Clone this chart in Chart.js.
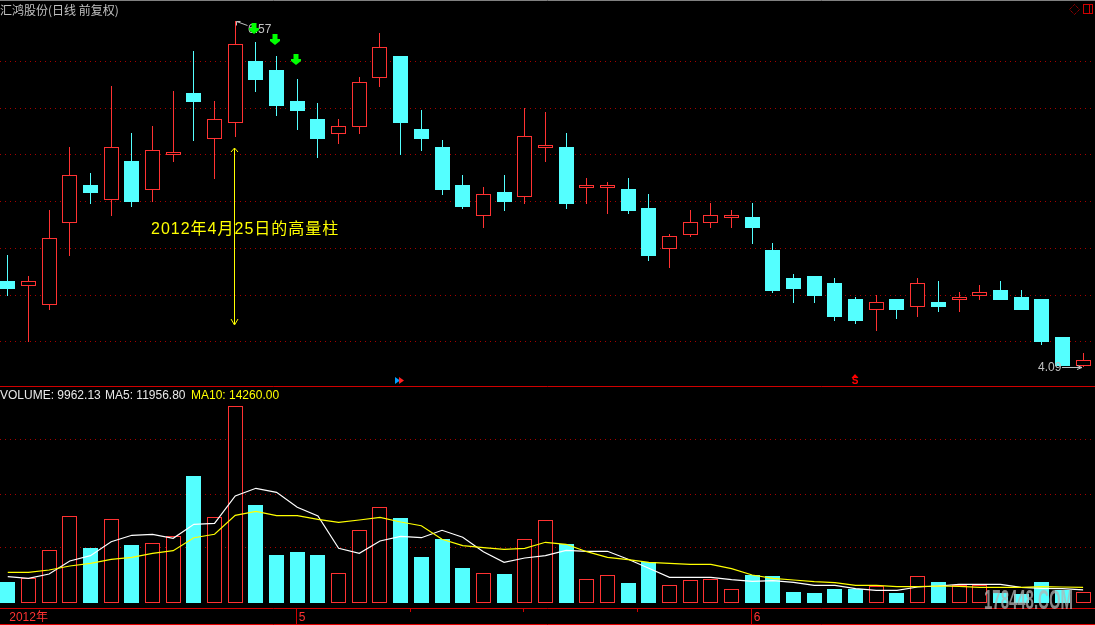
<!DOCTYPE html>
<html>
<head>
<meta charset="utf-8">
<title>汇鸿股份</title>
<script src="https://cdn.jsdelivr.net/npm/chart.js@4"></script>
<style>
  html, body { margin: 0; padding: 0; background: #000; overflow: hidden; }
  canvas { position: absolute; left: 0; display: block; }
  #priceChart { top: 0; }
  #volChart { top: 387px; }
</style>
</head>
<body>
<canvas id="priceChart" width="1095" height="387"></canvas>
<canvas id="volChart" width="1095" height="238"></canvas>
<script>
// daily candles
const opens = [4.706,4.670,4.534,5.122,5.394,5.287,5.566,5.358,5.609,6.054,5.724,5.839,6.283,6.219,5.996,5.867,5.760,5.810,6.161,6.319,5.796,5.667,5.394,5.172,5.344,5.308,5.659,5.667,5.373,5.373,5.366,5.229,4.935,5.036,5.122,5.158,5.165,4.928,4.727,4.742,4.691,4.577,4.498,4.577,4.519,4.555,4.570,4.598,4.641,4.591,4.577,4.304,4.096];
const highs = [4.892,4.742,5.215,5.667,5.480,6.104,5.767,5.817,6.068,6.355,5.996,6.570,6.419,6.319,6.154,5.982,5.867,6.169,6.484,6.319,5.932,5.717,5.466,5.380,5.466,5.946,5.918,5.767,5.444,5.416,5.444,5.330,5.043,5.215,5.265,5.215,5.265,4.978,4.756,4.742,4.727,4.591,4.606,4.577,4.727,4.706,4.627,4.677,4.706,4.641,4.577,4.304,4.190];
const lows = [4.598,4.268,4.498,4.885,5.258,5.172,5.236,5.272,5.559,5.710,5.437,5.738,6.061,5.889,5.789,5.588,5.688,5.760,6.097,5.609,5.638,5.323,5.222,5.086,5.208,5.258,5.559,5.222,5.258,5.186,5.186,4.849,4.799,5.021,5.086,5.086,4.971,4.620,4.548,4.548,4.419,4.398,4.347,4.433,4.448,4.484,4.484,4.570,4.570,4.498,4.247,4.096,4.089];
const closes = [4.648,4.706,5.014,5.466,5.337,5.667,5.272,5.645,5.631,5.989,5.867,6.405,6.147,5.961,5.925,5.724,5.817,6.133,6.384,5.839,5.724,5.358,5.236,5.330,5.272,5.746,5.681,5.258,5.394,5.394,5.208,4.885,5.029,5.129,5.179,5.179,5.086,4.634,4.648,4.598,4.448,4.419,4.555,4.498,4.691,4.519,4.591,4.627,4.570,4.498,4.268,4.096,4.139];
const volumes = [19090,22450,47900,78800,50000,76080,52720,54270,60630,115440,77900,178800,89080,43630,46360,43630,27000,66080,86990,77270,41810,58180,31820,27000,26360,57900,75170,53630,21540,25180,18180,37270,16090,20630,21540,12450,25450,24540,10000,9090,12730,12730,15450,9090,24270,19090,16090,16090,9090,8180,19090,11820,9962.13];
const ma5 = [23900,22450,26360,38180,43000,55720,61540,62450,58810,71540,72450,97260,104260,100630,86990,79080,49720,45180,56360,60630,59360,66080,59720,46630,37000,40900,43000,47900,47000,47000,39720,31540,23360,23360,23360,21180,19720,20270,18820,16090,16090,13000,11540,11540,14540,15450,17000,17000,17000,14270,13360,13000,11956.8];
const ma10 = [27900,27900,30000,33630,36090,39720,41540,45180,47540,59360,62450,79720,83360,79360,79360,76080,73360,75450,77900,73630,70270,57900,52090,50270,48810,49720,55180,53360,46630,41540,39360,37000,36090,35180,35180,31180,25450,22450,20900,19360,18450,16090,16090,14820,14820,15450,15180,14270,14270,14270,14820,14540,14260];

const priceGrid = [6.28, 5.944, 5.614, 5.277, 4.94, 4.603, 4.272];
const volGrid = [50000, 99000, 148500];
const monthIdx = [0, 14, 36];
const monthLabels = ["2012年", "5", "6"];
const minorTickIdx = [19.5, 25, 30.5];
const sellArrowIdx = [12, 13, 14];
const sellArrowPrice = [6.556, 6.477, 6.333];

const RED = "#ff3232";
const CYAN = "#54ffff";
const GRID_RED = "#a80000";
const AXIS_RED = "#d00000";
const CJK = '"Noto Sans CJK SC"';
const SANS = '"Liberation Sans", "Noto Sans CJK SC"';

const isUp = closes.map((c, i) => c >= opens[i]);
const candleColor = isUp.map((u) => (u ? RED : CYAN));
const bodyFill = isUp.map((u) => (u ? "#000" : CYAN));

// keeps the bars on whole pixels, the original is not antialiased
const snapBars = {
  id: "snapBars",
  afterDatasetsUpdate(chart) {
    chart.data.datasets.forEach((ds, n) => {
      if (ds.type && ds.type !== "bar") return;
      chart.getDatasetMeta(n).data.forEach((el) => {
        el.x = Math.floor(el.x) + 0.5;
        el.y = Math.round(el.y);
        el.base = Math.round(el.base);
      });
    });
  },
};

function line(ctx, x1, y1, x2, y2, color) {
  ctx.strokeStyle = color;
  ctx.lineWidth = 1;
  ctx.beginPath();
  ctx.moveTo(x1, y1);
  ctx.lineTo(x2, y2);
  ctx.stroke();
}

function poly(ctx, pts, color) {
  ctx.fillStyle = color;
  ctx.beginPath();
  pts.forEach((p, i) => (i ? ctx.lineTo(p[0], p[1]) : ctx.moveTo(p[0], p[1])));
  ctx.closePath();
  ctx.fill();
}

const priceDecor = {
  id: "priceDecor",
  afterDraw(chart) {
    const ctx = chart.ctx;
    const xs = chart.scales.x;
    const ys = chart.scales.y;
    ctx.save();
    ctx.textBaseline = "middle";
    ctx.textAlign = "left";

    // frame
    line(ctx, 0, 0.5, 1095, 0.5, "#808080");
    line(ctx, 0, 386.5, 1095, 386.5, AXIS_RED);

    // title
    ctx.fillStyle = "#c0c0c0";
    ctx.font = "12px " + CJK;
    ctx.fillText("汇鸿股份(日线 前复权)", 0, 10);

    // window buttons
    ctx.setLineDash([1, 1]);
    ctx.strokeStyle = "#d00000";
    ctx.beginPath();
    ctx.moveTo(1074.5, 4.5);
    ctx.lineTo(1079.5, 9.5);
    ctx.lineTo(1074.5, 14.5);
    ctx.lineTo(1069.5, 9.5);
    ctx.closePath();
    ctx.stroke();
    ctx.setLineDash([]);
    ctx.strokeRect(1083.5, 4.5, 9, 9);
    line(ctx, 1089.5, 4, 1089.5, 14, "#d00000");

    // high label
    const hi = highs.indexOf(Math.max(...highs));
    const hx = Math.floor(xs.getPixelForValue(hi)) + 0.5;
    const hy = Math.round(ys.getPixelForValue(highs[hi])) + 0.5;
    ctx.fillStyle = "#c0c0c0";
    ctx.font = "12px " + SANS;
    ctx.fillText(Math.max(...highs).toFixed(2), 248, hy + 8);
    line(ctx, hx + 1, hy, hx + 12, hy + 4, "#c0c0c0");
    line(ctx, hx + 1, hy, hx + 5, hy, "#c0c0c0");
    line(ctx, hx + 1, hy, hx + 1, hy + 4, "#c0c0c0");

    // sell arrows
    sellArrowIdx.forEach((idx, i) => {
      const x = Math.floor(xs.getPixelForValue(idx)) - 1;
      const y = Math.round(ys.getPixelForValue(sellArrowPrice[i]));
      poly(ctx, [[x - 2.5, y], [x + 2.5, y], [x + 2.5, y + 5], [x + 5, y + 5], [x + 5, y + 7], [x, y + 11], [x - 5, y + 7], [x - 5, y + 5], [x - 2.5, y + 5]], "#00ff00");
    });

    // note on the big volume day
    ctx.fillStyle = "#ffff00";
    ctx.font = "16px " + SANS;
    ctx.letterSpacing = "1px";
    ctx.fillText("2012年4月25日的高量柱", 151, 229.5);
    ctx.letterSpacing = "0px";
    line(ctx, 234.5, 148, 234.5, 324, "#ffff00");
    line(ctx, 234.5, 148, 231, 152, "#ffff00");
    line(ctx, 234.5, 148, 238, 152, "#ffff00");
    line(ctx, 234.5, 325, 231, 319, "#ffff00");
    line(ctx, 234.5, 325, 238, 319, "#ffff00");

    // low label
    const lo = Math.min(...lows);
    const ly = Math.round(ys.getPixelForValue(lo)) + 0.5;
    ctx.fillStyle = "#c0c0c0";
    ctx.font = "12px " + SANS;
    ctx.fillText(lo.toFixed(2), 1038, ly);
    line(ctx, 1062, ly, 1082, ly, "#c0c0c0");
    line(ctx, 1082, ly, 1077, ly - 2, "#c0c0c0");
    line(ctx, 1082, ly, 1077, ly + 2, "#c0c0c0");

    // signal marks on the bottom edge
    poly(ctx, [[395, 377], [400, 380.5], [395, 384]], "#00a0ff");
    poly(ctx, [[399, 377], [404, 380.5], [399, 384]], "#ff2020");
    poly(ctx, [[851.5, 378], [855, 374], [858.5, 378]], "#ff0000");
    ctx.fillStyle = "#ff0000";
    ctx.font = "bold 10px " + SANS;
    ctx.textAlign = "center";
    ctx.fillText("S", 855, 381.5);
    ctx.restore();
  },
};

const volDecor = {
  id: "volDecor",
  afterDraw(chart) {
    const ctx = chart.ctx;
    const xs = chart.scales.x;
    ctx.save();
    ctx.textBaseline = "middle";
    ctx.textAlign = "left";

    // legend
    ctx.font = "12px " + SANS;
    ctx.fillStyle = "#e8e8e8";
    ctx.fillText("VOLUME: " + volumes[volumes.length - 1].toFixed(2), 0, 9);
    ctx.fillText("MA5: " + ma5[ma5.length - 1].toFixed(2), 105, 9);
    ctx.fillStyle = "#ffff00";
    ctx.fillText("MA10: " + ma10[ma10.length - 1].toFixed(2), 191, 9);

    // date strip
    line(ctx, 0, 221.5, 1095, 221.5, AXIS_RED);
    line(ctx, 0, 237.5, 1095, 237.5, "#e00000");
    monthIdx.slice(1).forEach((idx) => {
      const x = Math.floor(xs.getPixelForValue(idx)) - 0.5;
      line(ctx, x, 221, x, 237, AXIS_RED);
    });
    minorTickIdx.forEach((idx) => {
      const x = Math.floor(xs.getPixelForValue(idx)) - 0.5;
      line(ctx, x, 221, x, 225, AXIS_RED);
    });

    // site watermark
    ctx.globalAlpha = 0.75;
    ctx.filter = "blur(0.7px)";
    ctx.fillStyle = "#b4b4b4";
    ctx.textBaseline = "alphabetic";
    ctx.font = 'bold 27px "Liberation Sans Narrow", "Liberation Sans"';
    ctx.fillText("178448.COM", 984, 222, 89);
    ctx.restore();
  },
};

const xAxisRange = { type: "linear", min: -0.3748, max: 52.575, offset: false };

new Chart(document.getElementById("priceChart"), {
  type: "bar",
  data: {
    datasets: [
      {
        label: "wick",
        order: 2,
        grouped: false,
        barThickness: 1,
        borderWidth: 0,
        borderSkipped: false,
        inflateAmount: 0,
        backgroundColor: candleColor,
        data: highs.map((h, i) => ({ x: i, y: [lows[i], h] })),
      },
      {
        label: "body",
        order: 1,
        grouped: false,
        barThickness: 15,
        borderWidth: 1,
        borderSkipped: false,
        inflateAmount: 0,
        borderColor: candleColor,
        backgroundColor: bodyFill,
        data: opens.map((o, i) => ({ x: i, y: [Math.min(o, closes[i]), Math.max(o, closes[i])] })),
      },
    ],
  },
  options: {
    responsive: false,
    animation: false,
    layout: { padding: 0 },
    plugins: { legend: { display: false }, tooltip: { enabled: false } },
    scales: {
      x: { ...xAxisRange, display: false, grid: { display: false } },
      y: {
        min: 3.9458,
        max: 6.7206,
        afterBuildTicks: (axis) => {
          axis.ticks = priceGrid.map((v) => ({ value: v }));
        },
        ticks: { display: false },
        grid: { color: GRID_RED, drawTicks: false, lineWidth: 1 },
        border: { display: false, dash: [1, 4] },
      },
    },
  },
  plugins: [snapBars, priceDecor],
});

new Chart(document.getElementById("volChart"), {
  data: {
    datasets: [
      {
        type: "line",
        label: "MA10",
        order: 1,
        borderColor: "#ffff00",
        borderWidth: 1.2,
        pointRadius: 0,
        tension: 0,
        data: ma10.map((v, i) => ({ x: i, y: v })),
      },
      {
        type: "line",
        label: "MA5",
        order: 2,
        borderColor: "#ffffff",
        borderWidth: 1.2,
        pointRadius: 0,
        tension: 0,
        data: ma5.map((v, i) => ({ x: i, y: v })),
      },
      {
        type: "bar",
        label: "VOLUME",
        order: 3,
        barThickness: 15,
        borderWidth: 1,
        borderSkipped: false,
        inflateAmount: 0,
        borderColor: candleColor,
        backgroundColor: bodyFill,
        data: volumes.map((v, i) => ({ x: i, y: v })),
      },
    ],
  },
  options: {
    responsive: false,
    animation: false,
    layout: { padding: 0 },
    plugins: { legend: { display: false }, tooltip: { enabled: false } },
    scales: {
      x: {
        ...xAxisRange,
        afterBuildTicks: (axis) => {
          axis.ticks = monthIdx.map((v) => ({ value: v }));
        },
        afterFit: (axis) => {
          axis.height = 22;
        },
        grid: { display: false },
        border: { display: false },
        ticks: {
          autoSkip: false,
          maxRotation: 0,
          align: "start",
          labelOffset: 1.5,
          padding: -1,
          color: RED,
          font: { family: SANS, size: 12 },
          callback: (value) => monthLabels[monthIdx.indexOf(value)],
        },
      },
      y: {
        min: 0,
        max: 196344,
        afterBuildTicks: (axis) => {
          axis.ticks = volGrid.map((v) => ({ value: v }));
        },
        ticks: { display: false },
        grid: { color: GRID_RED, drawTicks: false, lineWidth: 1 },
        border: { display: false, dash: [1, 4] },
      },
    },
  },
  plugins: [snapBars, volDecor],
});
</script>
</body>
</html>
